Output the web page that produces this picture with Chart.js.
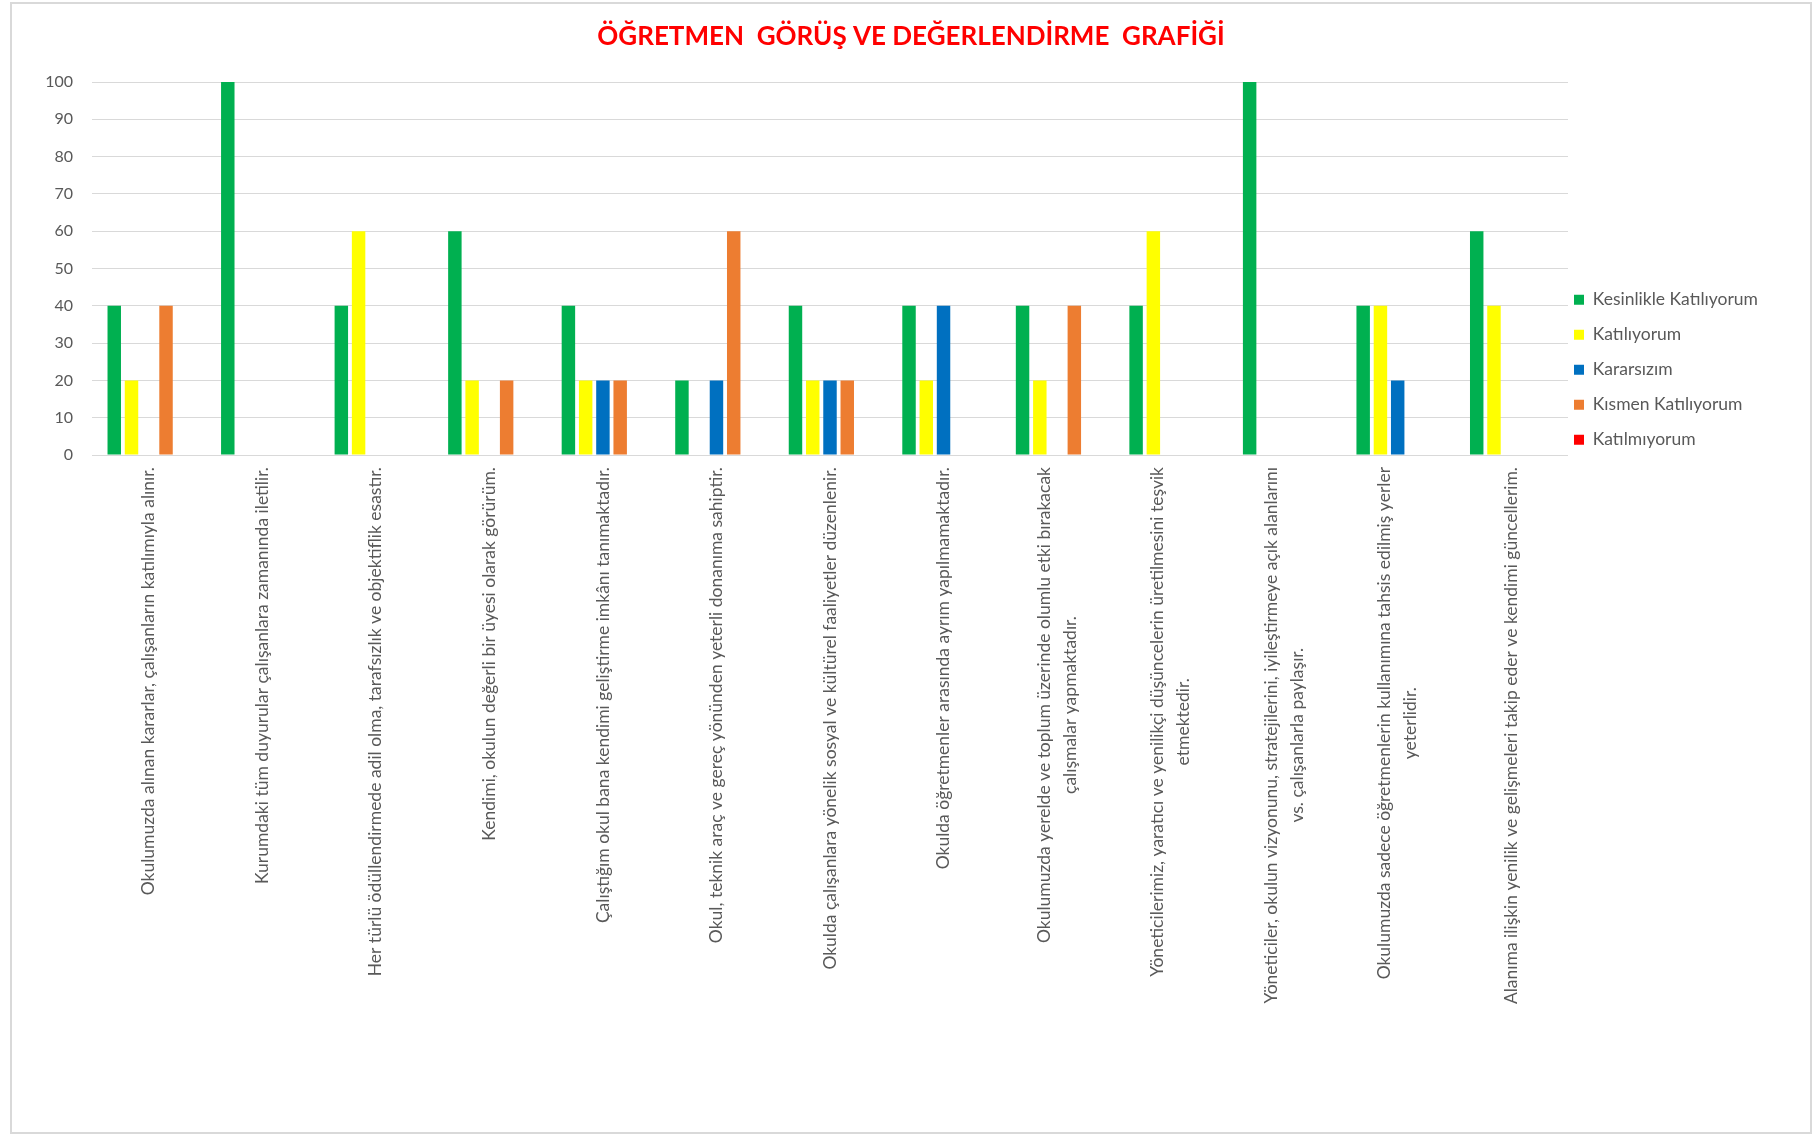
<!DOCTYPE html>
<html lang="tr">
<head>
<meta charset="utf-8">
<title>Öğretmen Görüş ve Değerlendirme Grafiği</title>
<script src="https://cdn.jsdelivr.net/npm/chart.js@4.4.0/dist/chart.umd.min.js"></script>
<style>
  body { margin: 0; background: #fff; }
  #wrap { position: relative; width: 1818px; height: 1135px; }
  #frame { position: absolute; left: 10px; top: 2px; width: 1802px; height: 1132px; border: 2px solid #d9d9d9; box-sizing: border-box; }
  #growthChart { position: absolute; left: 0; top: 0; }
</style>
</head>
<body>
<div id="wrap">
  <div id="frame"></div>
  <canvas id="growthChart"></canvas>
</div>
<script>
const ctx = document.getElementById("growthChart").getContext("2d");

// Survey items (x axis categories)
const questions = [
  "Okulumuzda alınan kararlar, çalışanların katılımıyla alınır.",
  "Kurumdaki tüm duyurular çalışanlara zamanında iletilir.",
  "Her türlü ödüllendirmede adil olma, tarafsızlık ve objektiflik esastır.",
  "Kendimi, okulun değerli bir üyesi olarak görürüm.",
  "Çalıştığım okul bana kendimi geliştirme imkânı tanımaktadır.",
  "Okul, teknik araç ve gereç yönünden yeterli donanıma sahiptir.",
  "Okulda çalışanlara yönelik sosyal ve kültürel faaliyetler düzenlenir.",
  "Okulda öğretmenler arasında ayrım yapılmamaktadır.",
  ["Okulumuzda yerelde ve toplum üzerinde olumlu etki bırakacak", "çalışmalar yapmaktadır."],
  ["Yöneticilerimiz, yaratıcı ve yenilikçi düşüncelerin üretilmesini teşvik", "etmektedir."],
  ["Yöneticiler, okulun vizyonunu, stratejilerini, iyileştirmeye açık alanlarını", "vs. çalışanlarla paylaşır."],
  ["Okulumuzda sadece öğretmenlerin kullanımına tahsis edilmiş yerler", "yeterlidir."],
  "Alanıma ilişkin yenilik ve gelişmeleri takip eder ve kendimi güncellerim."
];

// Answers (percent)
const kesinlikleKatiliyorum = [40, 100, 40, 60, 40, 20, 40, 40, 40, 40, 100, 40, 60];
const katiliyorum           = [20, 0, 60, 20, 20, 0, 20, 20, 20, 60, 0, 40, 40];
const kararsizim            = [0, 0, 0, 0, 20, 20, 20, 40, 0, 0, 0, 20, 0];
const kismenKatiliyorum     = [40, 0, 0, 20, 20, 60, 20, 0, 40, 0, 0, 0, 0];
const katilmiyorum          = [0, 0, 0, 0, 0, 0, 0, 0, 0, 0, 0, 0, 0];

const yTicks = [0, 10, 20, 30, 40, 50, 60, 70, 80, 90, 100];

const textGray = "#595959";
const gridGray = "#d9d9d9";

// rotated category labels, lines centred on the longest one (like Excel)
const questionLabels = {
  id: "questionLabels",
  afterDraw(chart) {
    const xs = chart.scales.x;
    const c = chart.ctx;
    c.save();
    c.font = "17.5px Lato";
    c.fillStyle = textGray;
    c.textAlign = "center";
    c.textBaseline = "middle";
    questions.forEach((q, i) => {
      const lines = Array.isArray(q) ? q : [q];
      const maxW = Math.max(...lines.map(l => c.measureText(l).width));
      c.save();
      c.translate(xs.getPixelForTick(i), xs.top + 12);
      c.rotate(-Math.PI / 2);
      lines.forEach((l, j) => {
        c.fillText(l, -maxW / 2, (j - (lines.length - 1) / 2) * 26);
      });
      c.restore();
    });
    c.restore();
  }
};

// keep the legend column a fixed width so the plot ends where Excel's does
const legendWidth = {
  id: "legendWidth",
  beforeLayout(chart) {
    const lg = chart.legend;
    if (lg && !lg._fixedWidth) {
      const fit = lg.fit;
      lg.fit = function () { fit.call(this); this.width = 212; };
      lg._fixedWidth = true;
    }
  }
};

const mkSet = (label, data, color) => ({
  label: label,
  data: data,
  backgroundColor: color,
  borderWidth: 0,
  categoryPercentage: 0.76,
  barPercentage: 0.78
});

const growthChart = new Chart(ctx, {
  type: "bar",
  data: {
    labels: questions,
    datasets: [
      mkSet("Kesinlikle Katılıyorum", kesinlikleKatiliyorum, "#00b050"),
      mkSet("Katılıyorum", katiliyorum, "#ffff00"),
      mkSet("Kararsızım", kararsizim, "#0070c0"),
      mkSet("Kısmen Katılıyorum", kismenKatiliyorum, "#ed7d31"),
      mkSet("Katılmıyorum", katilmiyorum, "#ff0000")
    ]
  },
  options: {
    responsive: true,
    maintainAspectRatio: false,
    animation: false,
    layout: { padding: { left: 42, right: 38, top: 0, bottom: 0 } },
    plugins: {
      tooltip: { enabled: false },
      title: {
        display: true,
        text: "ÖĞRETMEN  GÖRÜŞ VE DEĞERLENDİRME  GRAFİĞİ",
        color: "#ff0000",
        font: { family: "Lato", size: 26, weight: "bold", lineHeight: 1.2 },
        padding: { top: 21.4, bottom: 29.4 }
      },
      legend: {
        position: "right",
        align: "start",
        title: { display: true, text: "", font: { size: 12, lineHeight: 1 }, padding: { top: 273, bottom: 0 } },
        labels: {
          boxWidth: 10,
          boxHeight: 10,
          padding: 6,
          color: textGray,
          font: { family: "Lato", size: 17.5, lineHeight: 29 / 17.5 },
          generateLabels(chart) {
            const items = Chart.defaults.plugins.legend.labels.generateLabels(chart);
            items.forEach(it => { it.text = [it.text]; });
            return items;
          }
        }
      }
    },
    scales: {
      x: {
        grid: { display: false },
        border: { display: false },
        ticks: { display: false },
        afterFit(scale) { scale.height = 680; }
      },
      y: {
        min: 0,
        max: 100,
        afterBuildTicks(scale) { scale.ticks = yTicks.map(v => ({ value: v })); },
        grid: { color: gridGray, lineWidth: 1, drawTicks: false },
        border: { display: false },
        ticks: { color: textGray, padding: 19, font: { family: "Lato", size: 16 } },
        afterFit(scale) { scale.width = 50; }
      }
    }
  },
  plugins: [questionLabels, legendWidth]
});
</script>
</body>
</html>
